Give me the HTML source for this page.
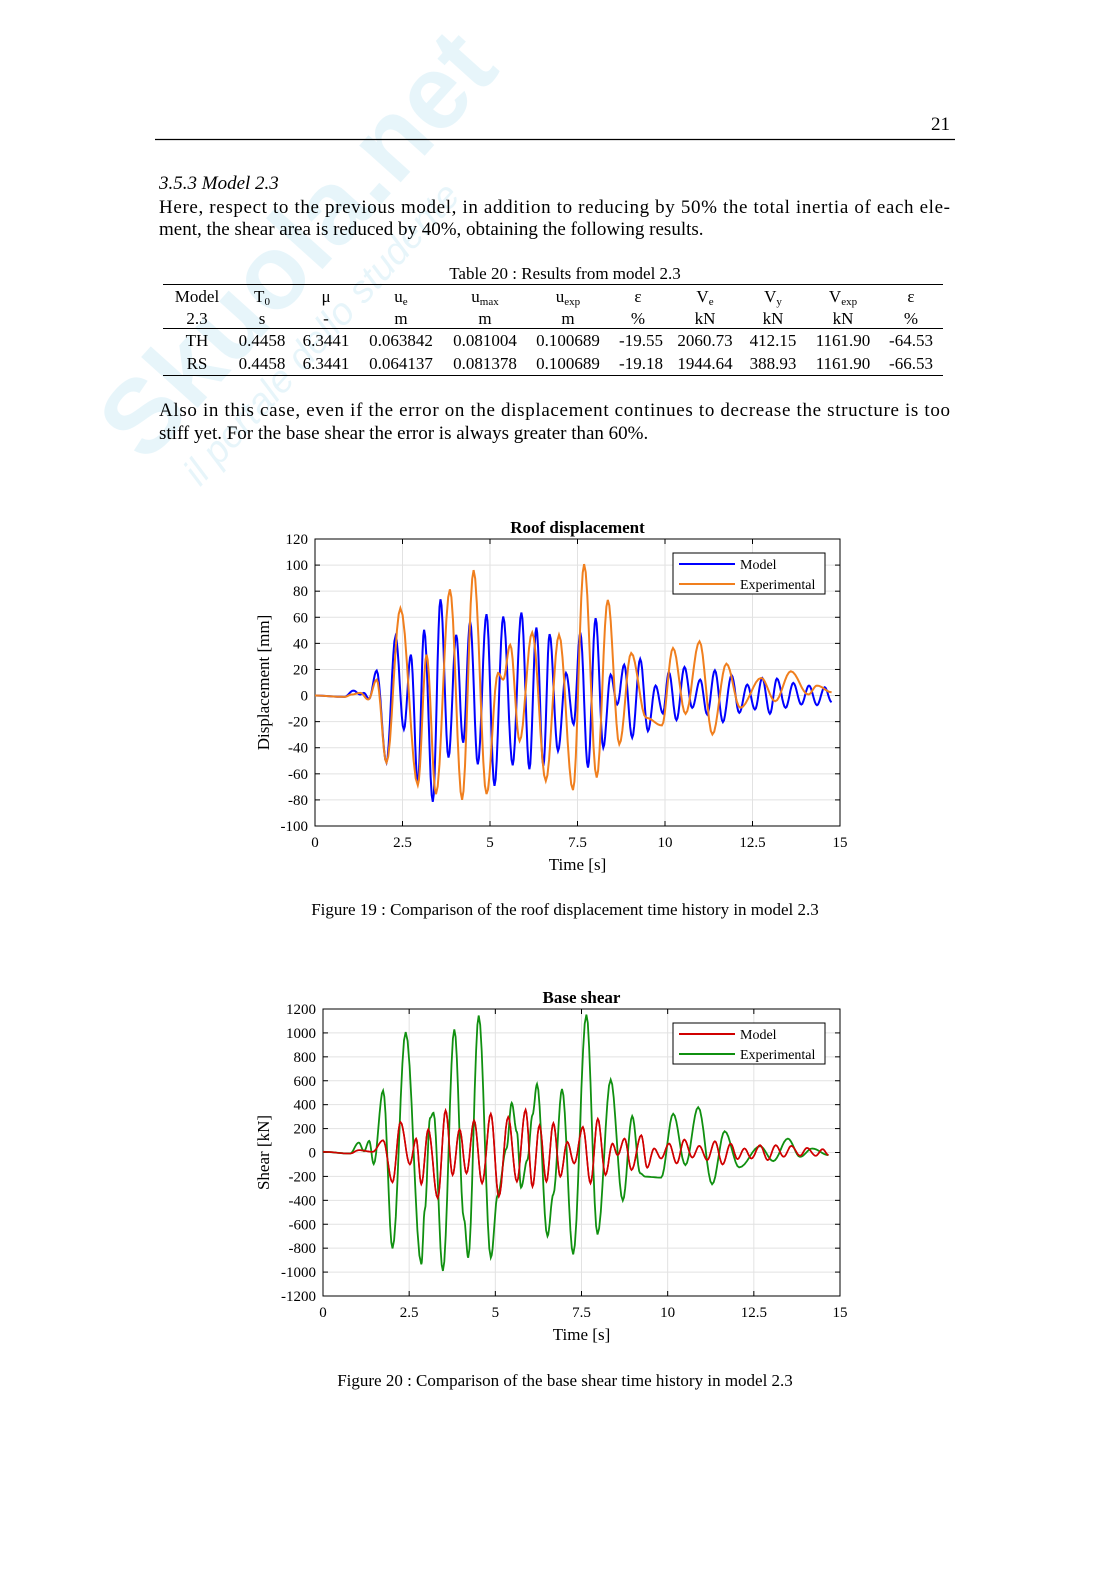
<!DOCTYPE html>
<html><head><meta charset="utf-8"><style>
html,body{margin:0;padding:0;background:#fff}
svg{display:block}
text{font-family:"Liberation Serif",serif;fill:#000}
</style></head><body>
<svg id="s" width="1116" height="1579" viewBox="0 0 1116 1579" xmlns="http://www.w3.org/2000/svg">
<g opacity="0.13" transform="rotate(-48 250 290)">
<text x="50" y="330" style="font-family:'Liberation Sans',sans-serif;font-weight:bold;font-size:105px;fill:#4fb8e0">Skuola.net</text>
<text x="70" y="385" style="font-family:'Liberation Sans',sans-serif;font-style:italic;font-size:38px;fill:#4fb8e0">il portale dello studente</text>
</g>
<text x="950" y="130" font-size="19" text-anchor="end">21</text>
<line x1="155" y1="139.5" x2="955" y2="139.5" stroke="#000" stroke-width="1.3"/>
<text x="159" y="189" font-size="19" font-style="italic">3.5.3  Model 2.3</text>
<text x="159" y="213" font-size="19" textLength="791">Here, respect to the previous model, in addition to reducing by 50% the total inertia of each ele-</text>
<text x="159" y="235" font-size="19">ment, the shear area is reduced by 40%, obtaining the following results.</text>
<text x="565" y="279" font-size="17" text-anchor="middle">Table 20 : Results from model 2.3</text>
<line x1="163" y1="284.5" x2="943" y2="284.5" stroke="#000"/>
<line x1="163" y1="328.5" x2="943" y2="328.5" stroke="#000"/>
<line x1="163" y1="375.5" x2="943" y2="375.5" stroke="#000"/>
<g font-size="17" text-anchor="middle">
<text x="197" y="302">Model</text><text x="262" y="302">T<tspan font-size="11" dy="3">0</tspan></text><text x="326" y="302">μ</text>
<text x="401" y="302">u<tspan font-size="11" dy="3">e</tspan></text><text x="485" y="302">u<tspan font-size="11" dy="3">max</tspan></text><text x="568" y="302">u<tspan font-size="11" dy="3">exp</tspan></text>
<text x="638" y="302">ε</text><text x="705" y="302">V<tspan font-size="11" dy="3">e</tspan></text><text x="773" y="302">V<tspan font-size="11" dy="3">y</tspan></text><text x="843" y="302">V<tspan font-size="11" dy="3">exp</tspan></text><text x="911" y="302">ε</text>
<text x="197" y="324">2.3</text><text x="262" y="324">s</text><text x="326" y="324">-</text><text x="401" y="324">m</text><text x="485" y="324">m</text><text x="568" y="324">m</text><text x="638" y="324">%</text><text x="705" y="324">kN</text><text x="773" y="324">kN</text><text x="843" y="324">kN</text><text x="911" y="324">%</text>
<text x="197" y="346">TH</text><text x="262" y="346">0.4458</text><text x="326" y="346">6.3441</text><text x="401" y="346">0.063842</text><text x="485" y="346">0.081004</text><text x="568" y="346">0.100689</text><text x="641" y="346">-19.55</text><text x="705" y="346">2060.73</text><text x="773" y="346">412.15</text><text x="843" y="346">1161.90</text><text x="911" y="346">-64.53</text>
<text x="197" y="369">RS</text><text x="262" y="369">0.4458</text><text x="326" y="369">6.3441</text><text x="401" y="369">0.064137</text><text x="485" y="369">0.081378</text><text x="568" y="369">0.100689</text><text x="641" y="369">-19.18</text><text x="705" y="369">1944.64</text><text x="773" y="369">388.93</text><text x="843" y="369">1161.90</text><text x="911" y="369">-66.53</text>
</g>
<text x="159" y="416" font-size="19" textLength="791">Also in this case, even if the error on the displacement continues to decrease the structure is too</text>
<text x="159" y="439" font-size="19">stiff yet. For the base shear the error is always greater than 60%.</text>
<g id="c1"></g>
<g id="c2"></g>
<text x="565" y="915" font-size="17" text-anchor="middle">Figure 19 : Comparison of the roof displacement time history in model 2.3</text>
<text x="565" y="1386" font-size="17" text-anchor="middle">Figure 20 : Comparison of the base shear time history in model 2.3</text>
</svg>
<script>
var NS="http://www.w3.org/2000/svg";
function el(p,n,a,t){var e=document.createElementNS(NS,n);for(var k in a)e.setAttribute(k,a[k]);if(t!==undefined)e.textContent=t;p.appendChild(e);return e;}
function curve(pts,X,Y){var d="";for(var i=0;i<pts.length-1;i++){var a=pts[i],b=pts[i+1];for(var j=0;j<8;j++){var f=j/8,m=(1-Math.cos(Math.PI*f))/2;var t=a[0]+(b[0]-a[0])*f,v=a[1]+(b[1]-a[1])*m;d+=(d?"L":"M")+X(t).toFixed(1)+","+Y(v).toFixed(1);}}var l=pts[pts.length-1];d+="L"+X(l[0]).toFixed(1)+","+Y(l[1]).toFixed(1);return d;}
function chart(g,o){
 var L=o.L,R=840,T=o.T,B=o.B;
 var X=function(t){return L+t*(R-L)/15},Y=function(v){return T+(o.ymax-v)*(B-T)/(o.ymax-o.ymin)};
 for(var t=0;t<=15;t+=2.5){el(g,"line",{x1:X(t),x2:X(t),y1:T,y2:B,stroke:"#e2e2e2"});el(g,"text",{x:X(t),y:B+21,"font-size":15,"text-anchor":"middle"},t==0?"0":String(t));
  el(g,"line",{x1:X(t),x2:X(t),y1:B,y2:B-5,stroke:"#000"});el(g,"line",{x1:X(t),x2:X(t),y1:T,y2:T+5,stroke:"#000"});}
 for(var v=o.ymin;v<=o.ymax;v+=o.ys){el(g,"line",{x1:L,x2:R,y1:Y(v),y2:Y(v),stroke:"#e2e2e2"});el(g,"text",{x:L-7,y:Y(v)+5,"font-size":15,"text-anchor":"end"},String(v));
  el(g,"line",{x1:L,x2:L+5,y1:Y(v),y2:Y(v),stroke:"#000"});el(g,"line",{x1:R,x2:R-5,y1:Y(v),y2:Y(v),stroke:"#000"});}
 el(g,"rect",{x:L,y:T,width:R-L,height:B-T,fill:"none",stroke:"#000"});
 el(g,"path",{d:curve(o.s1,X,Y),fill:"none",stroke:o.c1,"stroke-width":o.w1});
 el(g,"path",{d:curve(o.s2,X,Y),fill:"none",stroke:o.c2,"stroke-width":o.w2});
 if(o.top)el(g,"path",{d:curve(o.s1,X,Y),fill:"none",stroke:o.c1,"stroke-width":o.w1});
 el(g,"text",{x:(L+R)/2,y:T-6,"font-size":17,"font-weight":"bold","text-anchor":"middle"},o.title);
 el(g,"text",{x:(L+R)/2,y:B+44,"font-size":17,"text-anchor":"middle"},"Time [s]");
 el(g,"text",{x:0,y:0,"font-size":17,"text-anchor":"middle",transform:"translate(269,"+((T+B)/2)+") rotate(-90)"},o.yl);
 var ly=T+14;el(g,"rect",{x:673,y:ly,width:152,height:41,fill:"#fff",stroke:"#000"});
 el(g,"line",{x1:679,x2:735,y1:ly+11,y2:ly+11,stroke:o.c1,"stroke-width":2});el(g,"text",{x:740,y:ly+16,"font-size":14},"Model");
 el(g,"line",{x1:679,x2:735,y1:ly+31,y2:ly+31,stroke:o.c2,"stroke-width":2});el(g,"text",{x:740,y:ly+36,"font-size":14},"Experimental");
}
function conv(a,x0,sx,y0,sy){var r=[];for(var i=0;i<a.length;i+=2)r.push([(a[i]-x0)/sx,(y0-a[i+1])*sy]);return r;}
var b1=conv([45,508,130,512,155,493,175,505,185,500,200,518,222,433,250,710,276,330,300,610,320,385,340,775,358,310,383,828,405,218,428,695,450,325,470,650,490,285,512,715,537,263,560,780,585,270,612,718,637,258,660,730,680,303,700,720,718,323,742,675,765,440,787,595,806,318,828,725,850,275,872,665,893,445,912,535,932,415,955,635,978,398,1000,615,1022,478,1043,562,1060,437,1082,582,1105,422,1127,545,1150,460,1170,565,1192,432,1215,588,1240,447,1262,560,1285,475,1307,550,1328,455,1350,563,1370,457,1395,545,1417,470,1440,535,1462,478,1485,537,1507,483,1527,528],45,100.4,508,20/78.6);
var o1=conv([45,508,130,512,150,505,175,500,198,520,222,460,250,710,290,245,340,778,365,385,392,805,432,188,467,822,500,130,537,805,570,440,585,460,605,355,632,645,668,318,707,765,745,325,785,793,817,112,853,755,885,220,918,655,952,380,995,575,1040,598,1072,365,1108,563,1148,345,1185,625,1225,412,1265,545,1325,455,1365,525,1410,435,1460,505,1485,478,1527,498],45,100.4,508,20/78.6);
chart(document.getElementById("c1"),{L:315,T:539,B:826,ymin:-100,ymax:120,ys:20,s1:b1,s2:o1,c1:"#0000ff",c2:"#f07f1e",w1:2,w2:2,title:"Roof displacement",yl:"Displacement [mm]"});
var r2=conv([72,480,150,485,175,475,215,480,245,445,272,572,295,390,322,518,340,440,355,578,375,412,402,620,425,355,445,550,465,412,485,545,507,385,530,575,555,365,578,615,605,375,630,570,655,353,675,585,695,400,715,570,735,393,755,555,775,450,795,515,820,405,842,575,863,380,885,550,905,455,920,490,940,440,960,535,988,430,1005,528,1025,470,1045,500,1068,455,1090,515,1112,443,1135,497,1155,462,1178,505,1200,448,1222,518,1245,455,1265,502,1285,470,1305,500,1330,460,1352,505,1375,460,1398,495,1420,462,1445,492,1465,468,1490,492,1510,472,1527,490],72,99.2,482,200/72.3);
var g2=conv([72,480,150,485,175,452,190,478,205,447,218,517,245,295,272,772,310,118,355,820,365,655,380,378,390,362,417,840,450,110,478,685,490,800,520,68,555,800,575,610,600,470,615,332,630,420,642,588,660,505,675,368,688,275,718,735,735,608,760,290,792,790,830,65,862,730,900,262,935,627,962,372,985,545,1000,555,1045,558,1080,365,1115,520,1152,345,1192,578,1228,418,1270,527,1330,463,1368,508,1410,440,1445,495,1480,470,1527,490],72,99.2,482,200/72.3);
chart(document.getElementById("c2"),{L:323,T:1009,B:1296,ymin:-1200,ymax:1200,ys:200,s1:r2,s2:g2,c1:"#d00000",c2:"#109010",w1:1.6,w2:1.8,title:"Base shear",yl:"Shear [kN]",top:1});
</script>
</body></html>
